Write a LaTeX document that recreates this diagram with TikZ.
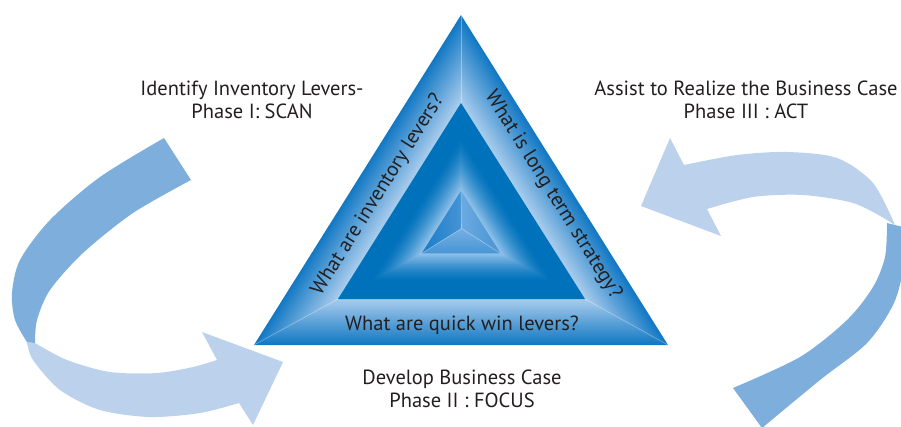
\documentclass[tikz,border=0pt]{standalone}
\usepackage{fontspec}
\setmainfont{PT Sans}
\usetikzlibrary{calc}

\definecolor{beveldark}{RGB}{18,120,196}
\definecolor{bevellight}{RGB}{172,206,237}
\definecolor{coredark}{RGB}{0,114,188}
\definecolor{glowlight}{RGB}{150,196,235}
\definecolor{pyrdark}{RGB}{25,125,198}
\definecolor{pyrmid}{RGB}{70,148,214}
\definecolor{pyrlight}{RGB}{118,176,226}
\definecolor{arrowdark}{RGB}{125,174,220}
\definecolor{arrowlight}{RGB}{187,209,236}
\definecolor{textgray}{RGB}{35,31,32}

\tikzset{
  phaselabel/.style={font=\fontsize{20.5}{23}\selectfont, align=center, text=textgray},
  question/.style={font=\fontsize{20.5}{23}\selectfont, text=textgray, inner sep=0pt},
  seam/.style={white, opacity=0.35, line width=0.6pt}
}

\begin{document}
\begin{tikzpicture}[x=1pt,y=-1pt]
    \useasboundingbox (0,0) rectangle (901,426);
    \clip (0,0) rectangle (901,426);

    % Outer triangle and the dark core inside it
    \coordinate (A) at (461,15);
    \coordinate (B) at (254,345);
    \coordinate (C) at (668,345);
    \coordinate (D) at (461,103);
    \coordinate (E) at (338,299);
    \coordinate (F) at (585,299);
    % Small pyramid in the middle
    \coordinate (P) at (461,232);
    \coordinate (M) at (461.5,228.5);
    \coordinate (J) at ($(P)!0.32!(D)$);
    \coordinate (K) at ($(P)!0.32!(E)$);
    \coordinate (L) at ($(P)!0.32!(F)$);

    % Left arrow: dark back then light front
    \fill[arrowlight] plot[smooth] coordinates {(27,342) (33,360) (60,390) (100,410) (150,417) (200,413) (239,403)}
        -- (253,425) -- (283,362) -- (202,332)
        -- plot[smooth] coordinates {(217,360) (193,367) (157,373) (110,372) (67,360) (35,343)} -- cycle;
    \fill[arrowdark] plot[smooth] coordinates {(164,138) (100,177) (50,220) (20,260) (12,293) (15,320) (27,342)}
        -- plot[smooth] coordinates {(35,343) (37,320) (50,290) (83,253) (133,213) (191,180)} -- cycle;

    % Right arrow
    \fill[arrowlight] (641,206) -- (670,138)
        -- plot[smooth] coordinates {(684,165) (737,155) (787,152) (837,158) (873,183) (895,225)}
        -- plot[smooth] coordinates {(887,220) (853,203) (803,195) (753,197) (707,209)}
        -- (721,236) -- cycle;
    \fill[arrowdark] plot[smooth] coordinates {(887,223) (885,257) (873,287) (847,320) (800,357) (733,388)}
        -- plot[smooth] coordinates {(762,428) (820,380) (867,343) (894,303) (904,263) (903,227)} -- cycle;

    % Bevel of the outer band, dark outside to light inside
    \foreach \i in {0,...,40}{
        \pgfmathsetmacro{\bev}{\i/40}
        \pgfmathsetmacro{\mixp}{100*\i/40}
        \fill[bevellight!\mixp!beveldark] ($(A)!\bev!(D)$) -- ($(B)!\bev!(E)$) -- ($(C)!\bev!(F)$) -- cycle;
    }
    \draw[seam] (A) -- (D);
    \draw[seam] (B) -- (E);
    \draw[seam] (C) -- (F);

    % Dark core with a glow round the pyramid
    \fill[coredark] (D) -- (E) -- (F) -- cycle;
    \foreach \i in {0,...,30}{
        \pgfmathsetmacro{\gr}{0.74-0.42*\i/30}
        \pgfmathsetmacro{\mixp}{100*(\i/30)^1.4}
        \fill[glowlight!\mixp!coredark] ($(P)!\gr!(D)$) -- ($(P)!\gr!(E)$) -- ($(P)!\gr!(F)$) -- cycle;
    }

    % Pyramid faces
    \shade[left color=pyrdark, right color=pyrmid] (J) -- (K) -- (M) -- cycle;
    \shade[left color=pyrlight!80!pyrmid, right color=pyrmid] (J) -- (M) -- (L) -- cycle;
    \shade[top color=pyrlight, bottom color=pyrmid] (K) -- (L) -- (M) -- cycle;
    \draw[seam] (J) -- (M);
    \draw[seam] (K) -- (M);
    \draw[seam] (L) -- (M);

    % Questions on the band
    \node[question, rotate=58] (inv) at (378,195) {What are inventory levers?};
    \node[question, rotate=-58] (strat) at (553,195) {What is long term strategy?};
    \node[question] (quick) at (462,325) {What are quick win levers?};

    % Phase labels
    \node[phaselabel] (scan) at (252,100) {Identify Inventory Levers-\\Phase I: SCAN};
    \node[phaselabel] (act) at (746,100) {Assist to Realize the Business Case\\Phase III : ACT};
    \node[phaselabel] (focus) at (462,389) {Develop Business Case\\Phase II : FOCUS};
\end{tikzpicture}
\end{document}
